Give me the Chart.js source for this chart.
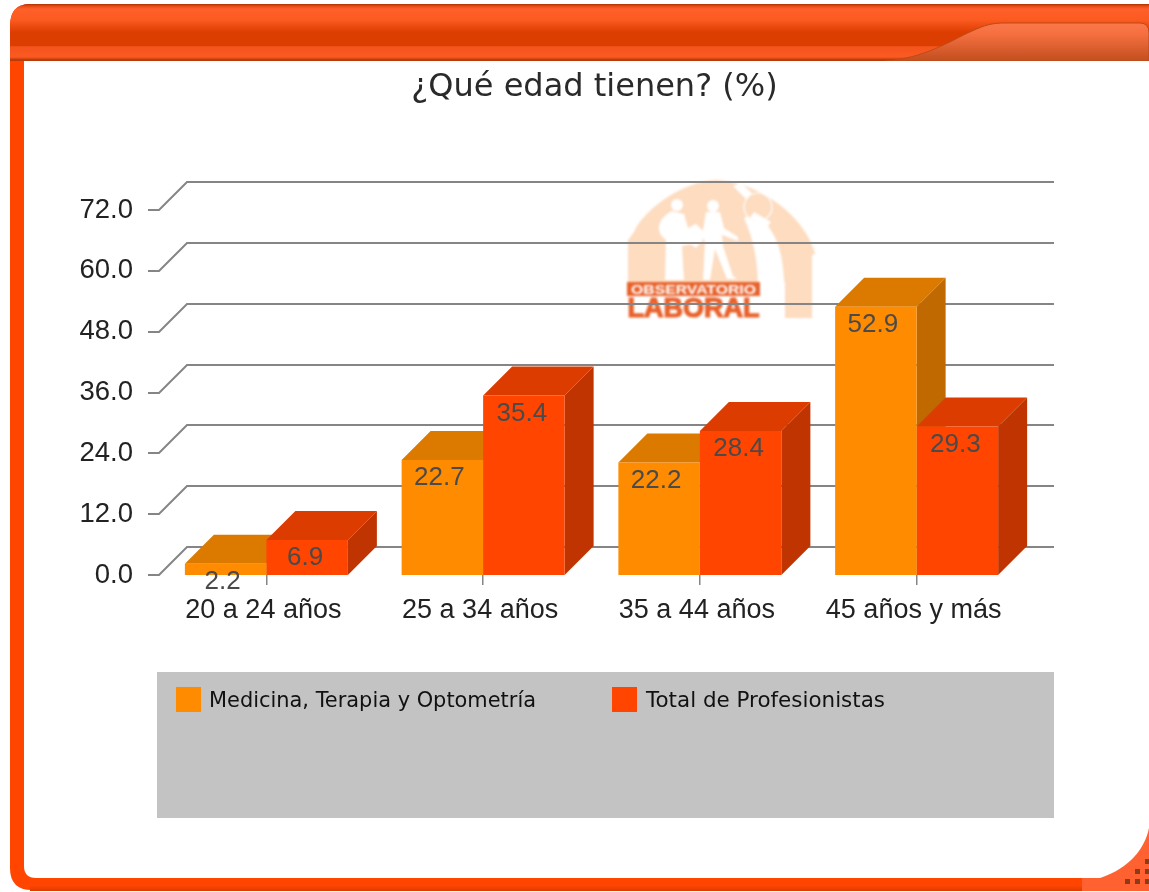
<!DOCTYPE html>
<html lang="es">
<head>
<meta charset="utf-8">
<title>¿Qué edad tienen? (%)</title>
<script src="https://cdn.jsdelivr.net/npm/chart.js@4"></script>
<style>
html,body{margin:0;padding:0;background:#fff;width:1149px;height:892px;overflow:hidden}
#frame,#c{position:absolute;left:0;top:0}
#c{filter:blur(0.45px)}
</style>
</head>
<body>
<svg id="frame" width="1149" height="892" viewBox="0 0 1149 892" xmlns="http://www.w3.org/2000/svg">
  <defs>
    <linearGradient id="head" gradientUnits="userSpaceOnUse" x1="0" y1="4" x2="0" y2="61">
      <stop offset="0" stop-color="#b03000"/><stop offset=".04" stop-color="#e84c18"/>
      <stop offset=".09" stop-color="#ff6028"/><stop offset=".28" stop-color="#fb5a20"/>
      <stop offset=".5" stop-color="#dc3d00"/><stop offset=".73" stop-color="#dc3d00"/>
      <stop offset=".75" stop-color="#f4551c"/><stop offset=".93" stop-color="#fb5a22"/>
      <stop offset=".98" stop-color="#b83a08"/>
    </linearGradient>
    <linearGradient id="tab" gradientUnits="userSpaceOnUse" x1="0" y1="23" x2="0" y2="61">
      <stop offset="0" stop-color="#fb784a"/><stop offset=".3" stop-color="#f56f40"/>
      <stop offset="1" stop-color="#c24e1e"/>
    </linearGradient>
    <linearGradient id="band" gradientUnits="userSpaceOnUse" x1="0" y1="878" x2="0" y2="891">
      <stop offset="0" stop-color="#ff4500"/><stop offset=".6" stop-color="#ff4500"/><stop offset="1" stop-color="#d93c00"/>
    </linearGradient>
  </defs>
  <path d="M1149 4 H30 Q10 4 10 26 V868 Q10 890 32 890 H1149 Z" fill="#ff4500"/>
  <path d="M10 61 V26 Q10 4 30 4 H1149 V61 Z" fill="url(#head)"/>
  <path d="M885 61 C925 58 948 42 972 31 C985 25 992 23 1005 23 H1140 Q1149 23 1149 33 V61 Z" fill="url(#tab)" stroke="#bd4a18" stroke-width="1"/>
  <rect x="30" y="878" width="1119" height="13" fill="url(#band)"/>
  <path d="M1082 891 V878 H1149 V891 Z" fill="#ff6230"/>
  <path d="M1100 840 L1149 825 V891 H1085 V860 Z" fill="#ff6230"/>
  <path d="M24 61 H1149 V828 C1145 848 1130 868 1100 878 H36 Q24 878 24 866 Z" fill="#fff"/>
  <g fill="#8c3a1a">
    <rect x="1125" y="879" width="5" height="5"/><rect x="1135" y="879" width="5" height="5"/><rect x="1145" y="879" width="4" height="5"/>
    <rect x="1135" y="869" width="5" height="5"/><rect x="1145" y="869" width="4" height="5"/><rect x="1145" y="859" width="4" height="5"/>
  </g>
  <g style="filter:blur(0.8px)">
    <path d="M628 282 V240 L634 232 C642 212 680 182 715 180 C760 182 800 215 812 245 L815 253 L812 256 V318 H785 V282 Z" fill="#fddcc0"/>
    <path d="M758 283 C757 250 750 232 744 218 L753 214 L768 226 C782 245 785 265 785 318 H758 Z" fill="#fff"/>
    <path d="M733 186 L741 183 L752 193 L746 199 Z" fill="#fff"/>
    <circle cx="758" cy="207" r="14" fill="#fddcc0" stroke="#fff" stroke-width="1.2"/>
    <path d="M750 218 L768 226 L771 222 L754 212 Z" fill="#fff"/>
    <g fill="#fff">
      <circle cx="677" cy="205" r="6"/><circle cx="713" cy="206" r="6"/>
      <path d="M672 211 C664 215 658 222 659 230 C660 236 664 238 666 240 L665 280 H684 L682 246 L692 244 L702 243 L704 232 L696 224 L688 228 L684 214 Z"/>
      <path d="M706 212 H720 L724 228 L738 237 L738 241 L722 235 L723 246 L733 276 L737 279 H727 L715 249 L710 280 H703 L705 242 L702 236 Z"/>
      <path d="M690 244 L696 248 L700 243 Z"/>
    </g>
    <rect x="627" y="282" width="133" height="14" fill="#e8622c"/>
    <text x="693.5" y="294" text-anchor="middle" textLength="125" lengthAdjust="spacingAndGlyphs" font-family="Liberation Sans" font-weight="700" font-size="13" fill="#fff">OBSERVATORIO</text>
    <text x="693.5" y="317" text-anchor="middle" textLength="132" lengthAdjust="spacingAndGlyphs" font-family="Liberation Sans" font-weight="700" font-size="28" fill="#e8622c" stroke="#e8622c" stroke-width="1.2">LABORAL</text>
  </g>
</svg>
<canvas id="c" width="1149" height="892"></canvas>
<script>
const categories = ["20 a 24 años", "25 a 34 años", "35 a 44 años", "45 años y más"];
const seriesNames = ["Medicina, Terapia y Optometría", "Total de Profesionistas"];
const medicina = [2.2, 22.7, 22.2, 52.9];
const total = [6.9, 35.4, 28.4, 29.3];
const yMax = 72;
const yStep = 12;
const titleText = "¿Qué edad tienen? (%)";

const frontColors = ["#ff8c00", "#ff4500"];
const topColors = ["#dc7a00", "#dd3c00"];
const sideColors = ["#bf6900", "#bf3400"];
const DEPTH = 29;
const GRID = "#858585";
const SANS = "'Liberation Sans', Arial, sans-serif";

const stage = {
  id: "stage",
  afterLayout(chart) {
    // centre the title over the visible panel rather than the plot box
    chart.titleBlock.left = 0;
    chart.titleBlock.right = 1189;
  },
  beforeDatasetsDraw(chart) {
    const { ctx, scales: { x, y }, chartArea: a } = chart;
    ctx.save();
    // grid: short tick, diagonal wall edge, back line
    ctx.strokeStyle = GRID;
    ctx.lineWidth = 2;
    y.ticks.forEach(t => {
      const py = Math.round(y.getPixelForValue(t.value));
      ctx.beginPath();
      ctx.moveTo(a.left - 10, py);
      ctx.lineTo(a.left + 1, py);
      ctx.lineTo(a.left + DEPTH, py - 28);
      ctx.lineTo(a.right + DEPTH, py - 28);
      ctx.stroke();
    });
    // extruded top and side faces
    chart.data.datasets.forEach((ds, di) => {
      chart.getDatasetMeta(di).data.forEach(bar => {
        const p = bar.getProps(["x", "y", "base", "width"], true);
        const l = p.x - p.width / 2, r = p.x + p.width / 2;
        ctx.fillStyle = topColors[di];
        ctx.beginPath();
        ctx.moveTo(l, p.y); ctx.lineTo(l + DEPTH, p.y - DEPTH);
        ctx.lineTo(r + DEPTH, p.y - DEPTH); ctx.lineTo(r, p.y);
        ctx.closePath(); ctx.fill();
        ctx.fillStyle = sideColors[di];
        ctx.beginPath();
        ctx.moveTo(r, p.y); ctx.lineTo(r + DEPTH, p.y - DEPTH);
        ctx.lineTo(r + DEPTH, p.base - DEPTH); ctx.lineTo(r, p.base);
        ctx.closePath(); ctx.fill();
      });
    });
    ctx.restore();
  },
  afterDatasetsDraw(chart) {
    const { ctx } = chart;
    ctx.save();
    ctx.font = "26px " + SANS;
    ctx.fillStyle = "#4a4a4a";
    ctx.textAlign = "center";
    ctx.textBaseline = "middle";
    chart.data.datasets.forEach((ds, di) => {
      chart.getDatasetMeta(di).data.forEach((bar, i) => {
        ctx.fillText(ds.data[i].toFixed(1), bar.x - 3 + di, bar.y + 18);
      });
    });
    ctx.restore();
  },
  afterDraw(chart) {
    const { ctx } = chart;
    ctx.save();
    // legend panel
    ctx.fillStyle = "#c3c3c3";
    ctx.fillRect(157, 672, 897, 146);
    ctx.font = "22px 'DejaVu Sans', sans-serif";
    ctx.textBaseline = "middle";
    const slots = [[176, 209, 327], [612, 646, 239]];
    seriesNames.forEach((name, i) => {
      const [sx, tx, tw] = slots[i];
      ctx.fillStyle = frontColors[i];
      ctx.fillRect(sx, 687, 25, 25);
      ctx.fillStyle = "#111";
      ctx.fillText(name, tx, 701, tw);
    });
    ctx.restore();
  }
};

new Chart(document.getElementById("c"), {
  type: "bar",
  plugins: [stage],
  data: {
    labels: categories,
    datasets: [
      { label: seriesNames[0], data: medicina, backgroundColor: frontColors[0], borderWidth: 0 },
      { label: seriesNames[1], data: total, backgroundColor: frontColors[1], borderWidth: 0 }
    ]
  },
  options: {
    responsive: false,
    animation: false,
    events: [],
    layout: { padding: { left: 0, right: 124, top: 0, bottom: 267 } },
    datasets: { bar: { categoryPercentage: 0.752, barPercentage: 1 } },
    plugins: {
      legend: { display: false },
      tooltip: { enabled: false },
      title: {
        display: true,
        text: titleText,
        color: "#2a2a2a",
        font: { family: "'DejaVu Sans', sans-serif", size: 32, weight: "normal", lineHeight: 1.2 },
        padding: { top: 68, bottom: 103.6 }
      }
    },
    scales: {
      x: {
        afterFit(s) { s.height = 50; },
        border: { display: false },
        grid: { offset: false, drawOnChartArea: false, drawTicks: true, tickLength: 10, color: GRID, lineWidth: 1.5 },
        ticks: { color: "#222", font: { family: SANS, size: 27 }, padding: 9, labelOffset: -3, maxRotation: 0, autoSkip: false }
      },
      y: {
        min: 0,
        max: yMax,
        afterFit(s) { s.width = 158; },
        border: { display: false },
        grid: { display: false, drawTicks: false },
        ticks: {
          stepSize: yStep,
          color: "#222",
          padding: 25,
          font: { family: SANS, size: 27.5 },
          callback: v => v.toFixed(1)
        }
      }
    }
  }
});
</script>
</body>
</html>
